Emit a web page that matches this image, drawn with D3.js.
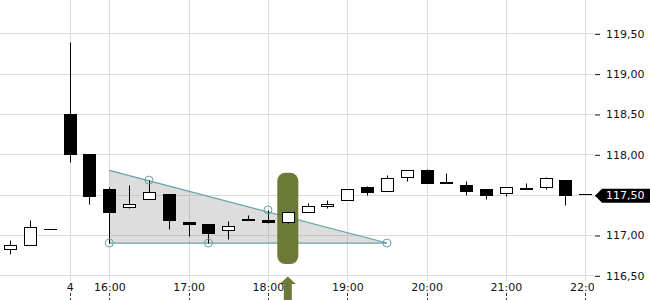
<!DOCTYPE html>
<html>
<head>
<meta charset="utf-8">
<script src="https://cdn.jsdelivr.net/npm/d3@7"></script>
<style>
  body { margin: 0; background: #fff; }
  svg { display: block; font-family: "DejaVu Sans", sans-serif; }
</style>
</head>
<body>
<div id="chart"></div>
<script>
// Candle data (15 minute bars)
const times = ['14:45', '15:00', '15:15', '15:30', '15:45', '16:00', '16:15', '16:30',
  '16:45', '17:00', '17:15', '17:30', '17:45', '18:00', '18:15', '18:30', '18:45',
  '19:00', '19:15', '19:30', '19:45', '20:00', '20:15', '20:30', '20:45', '21:00',
  '21:15', '21:30', '21:45', '22:00'];
const opens = [116.82, 116.88, 117.07, 118.50, 118.00, 117.57, 117.35, 117.44, 117.51,
  117.16, 117.14, 117.06, 117.20, 117.19, 117.16, 117.29, 117.36, 117.43, 117.59,
  117.54, 117.72, 117.81, 117.66, 117.62, 117.57, 117.52, 117.57, 117.59, 117.68, 117.51];
const highs = [116.94, 117.19, 117.07, 119.39, 118.00, 117.60, 117.62, 117.68, 117.51,
  117.16, 117.14, 117.17, 117.25, 117.31, 117.29, 117.40, 117.43, 117.57, 117.61,
  117.74, 117.81, 117.82, 117.77, 117.67, 117.57, 117.60, 117.65, 117.72, 117.68, 117.51];
const lows = [116.77, 116.87, 117.07, 117.91, 117.39, 116.90, 117.34, 117.44, 117.08,
  116.99, 116.90, 116.95, 117.18, 117.15, 117.15, 117.29, 117.34, 117.43, 117.49,
  117.54, 117.67, 117.64, 117.64, 117.50, 117.45, 117.48, 117.57, 117.57, 117.37, 117.51];
const closes = [116.88, 117.10, 117.07, 118.00, 117.48, 117.28, 117.38, 117.53, 117.19,
  117.13, 117.02, 117.11, 117.18, 117.16, 117.29, 117.36, 117.39, 117.57, 117.53,
  117.70, 117.81, 117.64, 117.64, 117.55, 117.50, 117.59, 117.58, 117.70, 117.50, 117.51];

// Axes
const xTickTimes = ['15:30', '16:00', '17:00', '18:00', '19:00', '20:00', '21:00', '22:00'];
const xTickLabels = ['4', '16:00', '17:00', '18:00', '19:00', '20:00', '21:00', '22:00'];
const yTicks = [116.5, 117.0, 117.5, 118.0, 118.5, 119.0, 119.5];
const lastPrice = 117.50;

// Descending triangle drawing
const triangleTimes = ['16:00', '19:30'];
const triangleTop = 117.80;
const triangleBase = 116.90;
const touchTimes = ['16:00', '16:30', '17:15', '18:00', '19:30'];
const touchPrices = [116.90, 117.68, 116.90, 117.31, 116.90];

// Breakout marker
const signalTime = '18:15';
const signalRange = [116.64, 117.77];

const width = 650, height = 300;
const plotRight = 594;
const parse = d3.timeParse('%H:%M');

const candles = times.map((t, i) => ({
  t: parse(t), o: opens[i], h: highs[i], l: lows[i], c: closes[i]
}));

const x = d3.scaleTime()
  .domain([parse('16:00'), parse('22:00')])
  .range([109.3, 585.3]);
const y = d3.scaleLinear()
  .domain([116.5, 119.5])
  .range([275.3, 33.3]);

const px = (t) => Math.round(x(t)) + 0.5;
const py = (v) => Math.round(y(v)) + 0.5;

const svg = d3.select('#chart').append('svg')
  .attr('width', width)
  .attr('height', height);

svg.append('defs').append('clipPath').attr('id', 'plot-clip')
  .append('rect').attr('x', 0).attr('y', 0).attr('width', plotRight).attr('height', height);

// Grid
const grid = svg.append('g').attr('stroke', '#dcdcdc').attr('stroke-width', 1);
grid.selectAll('.hgrid').data(yTicks).enter().append('line')
  .attr('x1', 0).attr('x2', plotRight)
  .attr('y1', (d) => py(d)).attr('y2', (d) => py(d));
grid.selectAll('.vgrid').data(xTickTimes).enter().append('line')
  .attr('x1', (d) => px(parse(d))).attr('x2', (d) => px(parse(d)))
  .attr('y1', 0).attr('y2', 281);

// Triangle
const t0 = parse(triangleTimes[0]), t1 = parse(triangleTimes[1]);
svg.append('path')
  .attr('d', d3.line()([[x(t0), y(triangleTop)], [x(t1), y(triangleBase)], [x(t0), y(triangleBase)]]) + 'Z')
  .attr('fill', '#808080')
  .attr('fill-opacity', 0.27);
svg.append('path')
  .attr('d', d3.line()([[x(t0), y(triangleTop)], [x(t1), y(triangleBase)], [x(t0), y(triangleBase)]]))
  .attr('fill', 'none')
  .attr('stroke', '#62a3aa')
  .attr('stroke-width', 1.2);

// Signal band
const sx = x(parse(signalTime));
svg.append('rect')
  .attr('x', sx - 10.5)
  .attr('width', 21)
  .attr('y', y(signalRange[1]))
  .attr('height', y(signalRange[0]) - y(signalRange[1]))
  .attr('rx', 8)
  .attr('fill', '#6b7b37');
svg.append('path')
  .attr('d', 'M' + (sx - 8) + ',284 L' + sx + ',276.5 L' + (sx + 8) + ',284 L' +
    (sx + 4) + ',284 L' + (sx + 4) + ',300 L' + (sx - 4) + ',300 L' + (sx - 4) + ',284Z')
  .attr('fill', '#6b7b37');

// Candles
const cg = svg.append('g').attr('clip-path', 'url(#plot-clip)');
const candle = cg.selectAll('.candle').data(candles).enter().append('g');
candle.append('line')
  .attr('x1', (d) => px(d.t)).attr('x2', (d) => px(d.t))
  .attr('y1', (d) => py(d.h)).attr('y2', (d) => py(d.l))
  .attr('stroke', '#000');
candle.append('rect')
  .attr('x', (d) => px(d.t) - 6)
  .attr('width', 12)
  .attr('y', (d) => py(Math.max(d.o, d.c)))
  .attr('height', (d) => Math.max(py(Math.min(d.o, d.c)) - py(Math.max(d.o, d.c)), 0.01))
  .attr('fill', (d) => d.c > d.o ? '#fff' : '#000')
  .attr('stroke', '#000')
  .attr('stroke-width', 1);

// Touch points
svg.selectAll('.touch').data(touchTimes).enter().append('circle')
  .attr('cx', (d) => x(parse(d)))
  .attr('cy', (d, i) => y(touchPrices[i]))
  .attr('r', 4)
  .attr('fill', 'none')
  .attr('stroke', '#62a3aa')
  .attr('stroke-width', 1);

// X axis
const xAxis = svg.append('g')
  .attr('transform', 'translate(0,280)')
  .attr('clip-path', 'url(#plot-clip)')
  .call(d3.axisBottom(x)
    .tickValues(xTickTimes.map(parse))
    .tickFormat((d, i) => xTickLabels[i])
    .tickSize(0)
    .tickPadding(3));
xAxis.select('.domain').remove();
xAxis.selectAll('text')
  .attr('font-size', 11)
  .attr('font-family', '"DejaVu Sans", sans-serif')
  .attr('fill', '#111');
svg.append('g').selectAll('line').data(xTickTimes).enter().append('line')
  .attr('x1', (d) => px(parse(d))).attr('x2', (d) => px(parse(d)))
  .attr('y1', 293).attr('y2', 300)
  .attr('stroke', '#333')
  .attr('stroke-dasharray', '3,2');

// Y axis
const yAxis = svg.append('g')
  .attr('transform', 'translate(' + (plotRight + 1) + ',0.5)')
  .call(d3.axisRight(y)
    .tickValues(yTicks)
    .tickFormat((d) => d3.format('.2f')(d).replace('.', ','))
    .tickSize(5)
    .tickPadding(6));
yAxis.select('.domain').remove();
yAxis.selectAll('line').attr('stroke', '#111');
yAxis.selectAll('text')
  .attr('font-size', 11)
  .attr('font-family', '"DejaVu Sans", sans-serif')
  .attr('fill', '#111');

// Last price tag
const ly = y(lastPrice) + 1;
svg.append('path')
  .attr('d', 'M595,' + ly + ' L602,' + (ly - 7) + ' L650,' + (ly - 7) + ' L650,' + (ly + 7) +
    ' L602,' + (ly + 7) + 'Z')
  .attr('fill', '#000');
svg.append('text')
  .attr('x', 606)
  .attr('y', ly)
  .attr('dy', '0.35em')
  .attr('font-size', 11)
  .attr('fill', '#fff')
  .text(d3.format('.2f')(lastPrice).replace('.', ','));
</script>
</body>
</html>
